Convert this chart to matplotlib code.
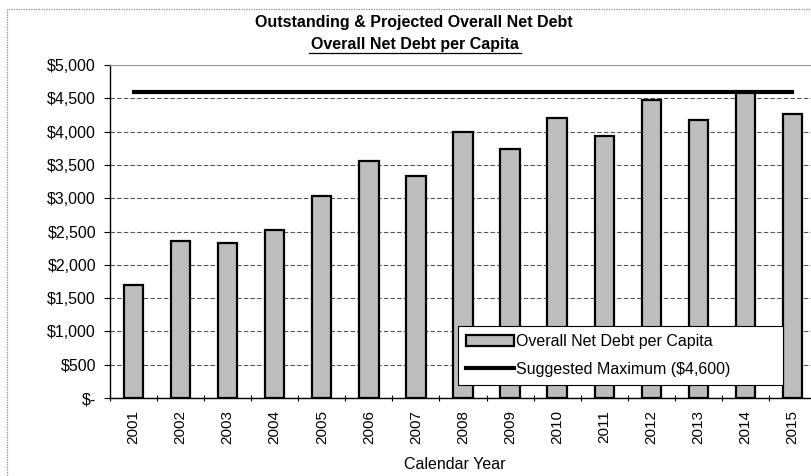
import matplotlib
matplotlib.use("Agg")
from matplotlib import pyplot as plt
from matplotlib.patches import Rectangle
from matplotlib.ticker import FuncFormatter, MultipleLocator

years = ["2001", "2002", "2003", "2004", "2005", "2006", "2007", "2008",
         "2009", "2010", "2011", "2012", "2013", "2014", "2015"]
debt_per_capita = [1690, 2350, 2320, 2530, 3030, 3555, 3335, 3990,
                   3740, 4205, 3935, 4480, 4170, 4600, 4265]
suggested_max = 4600

plt.rcParams['font.family'] = ['Liberation Sans', 'DejaVu Sans']

W, H = 811, 476
fig = plt.figure(figsize=(W / 100, H / 100), dpi=100)
fig.patch.set_facecolor('white')

# outer chart border (dotted grey)
fig.patches.append(Rectangle((7 / W, -0.02), (W + 10) / W, 1 - 9 / H + 0.02,
                             transform=fig.transFigure, fill=False,
                             edgecolor='#8a8a8a', linewidth=0.9,
                             linestyle=(0, (1, 1))))

ax = fig.add_axes([110 / W, (H - 398) / H, 706 / W, 333 / H])

x = list(range(len(years)))
bars = ax.bar(x, debt_per_capita, width=0.41, color='#bdbdbd', edgecolor='black',
              linewidth=1.6, zorder=3, label='Overall Net Debt per Capita')
line, = ax.plot(x, [suggested_max] * len(years), color='black', linewidth=3,
                zorder=4, label='Suggested Maximum ($4,600)')

ax.set_xlim(-0.5, len(years) - 0.5)
ax.set_ylim(0, 5000)
ax.yaxis.set_major_locator(MultipleLocator(500))


def dollars(v, pos):
    if v == 0:
        return '$-'
    return '${:,.0f}'.format(v)


ax.yaxis.set_major_formatter(FuncFormatter(dollars))
ax.grid(axis='y', color='#555555', linewidth=0.8, linestyle=(0, (4, 2)), zorder=0)

ax.set_xticks(x)
ax.set_xticklabels(years, rotation=90)
ax.set_xticks([i + 0.5 for i in x[:-1]] + [-0.5], minor=True)
ax.tick_params(axis='x', which='major', length=0, pad=9, labelsize=11)
ax.tick_params(axis='x', which='minor', length=5, direction='inout', width=0.8)
ax.tick_params(axis='y', length=4, width=0.8, labelsize=11.5, pad=6)

for s in ['left', 'bottom']:
    ax.spines[s].set_color('black')
    ax.spines[s].set_linewidth(1.0)
ax.spines['right'].set_visible(False)
ax.spines['top'].set_color('#999999')
ax.spines['top'].set_linestyle((0, (1, 1)))
ax.spines['top'].set_linewidth(0.8)

ax.set_xlabel('Calendar Year', fontsize=11.5)
ax.xaxis.set_label_coords((455 - 110) / 706, -(457 - 398) / 333)

fig.text(414 / W, 1 - 23 / H, 'Outstanding & Projected Overall Net Debt',
         ha='center', va='center', fontsize=11.5, fontweight='bold')
fig.text(415 / W, 1 - 45 / H, 'Overall Net Debt per Capita',
         ha='center', va='center', fontsize=11.5, fontweight='bold')
fig.lines.append(plt.Line2D([309 / W, 521 / W], [1 - 53 / H, 1 - 53 / H],
                            transform=fig.transFigure, color='black',
                            linewidth=0.9))

leg = ax.legend([bars, line], [bars.get_label(), line.get_label()],
                loc='lower left', bbox_to_anchor=(0.493, 0.039, 0.46, 0.189),
                mode='expand', fontsize=11.5, frameon=True, fancybox=False,
                framealpha=1, edgecolor='black', handlelength=3,
                handletextpad=0.1, borderaxespad=0, labelspacing=0.8,
                borderpad=0.5)
leg.get_frame().set_linewidth(0.8)
leg.set_zorder(10)

fig.savefig('out.png', dpi=100)
